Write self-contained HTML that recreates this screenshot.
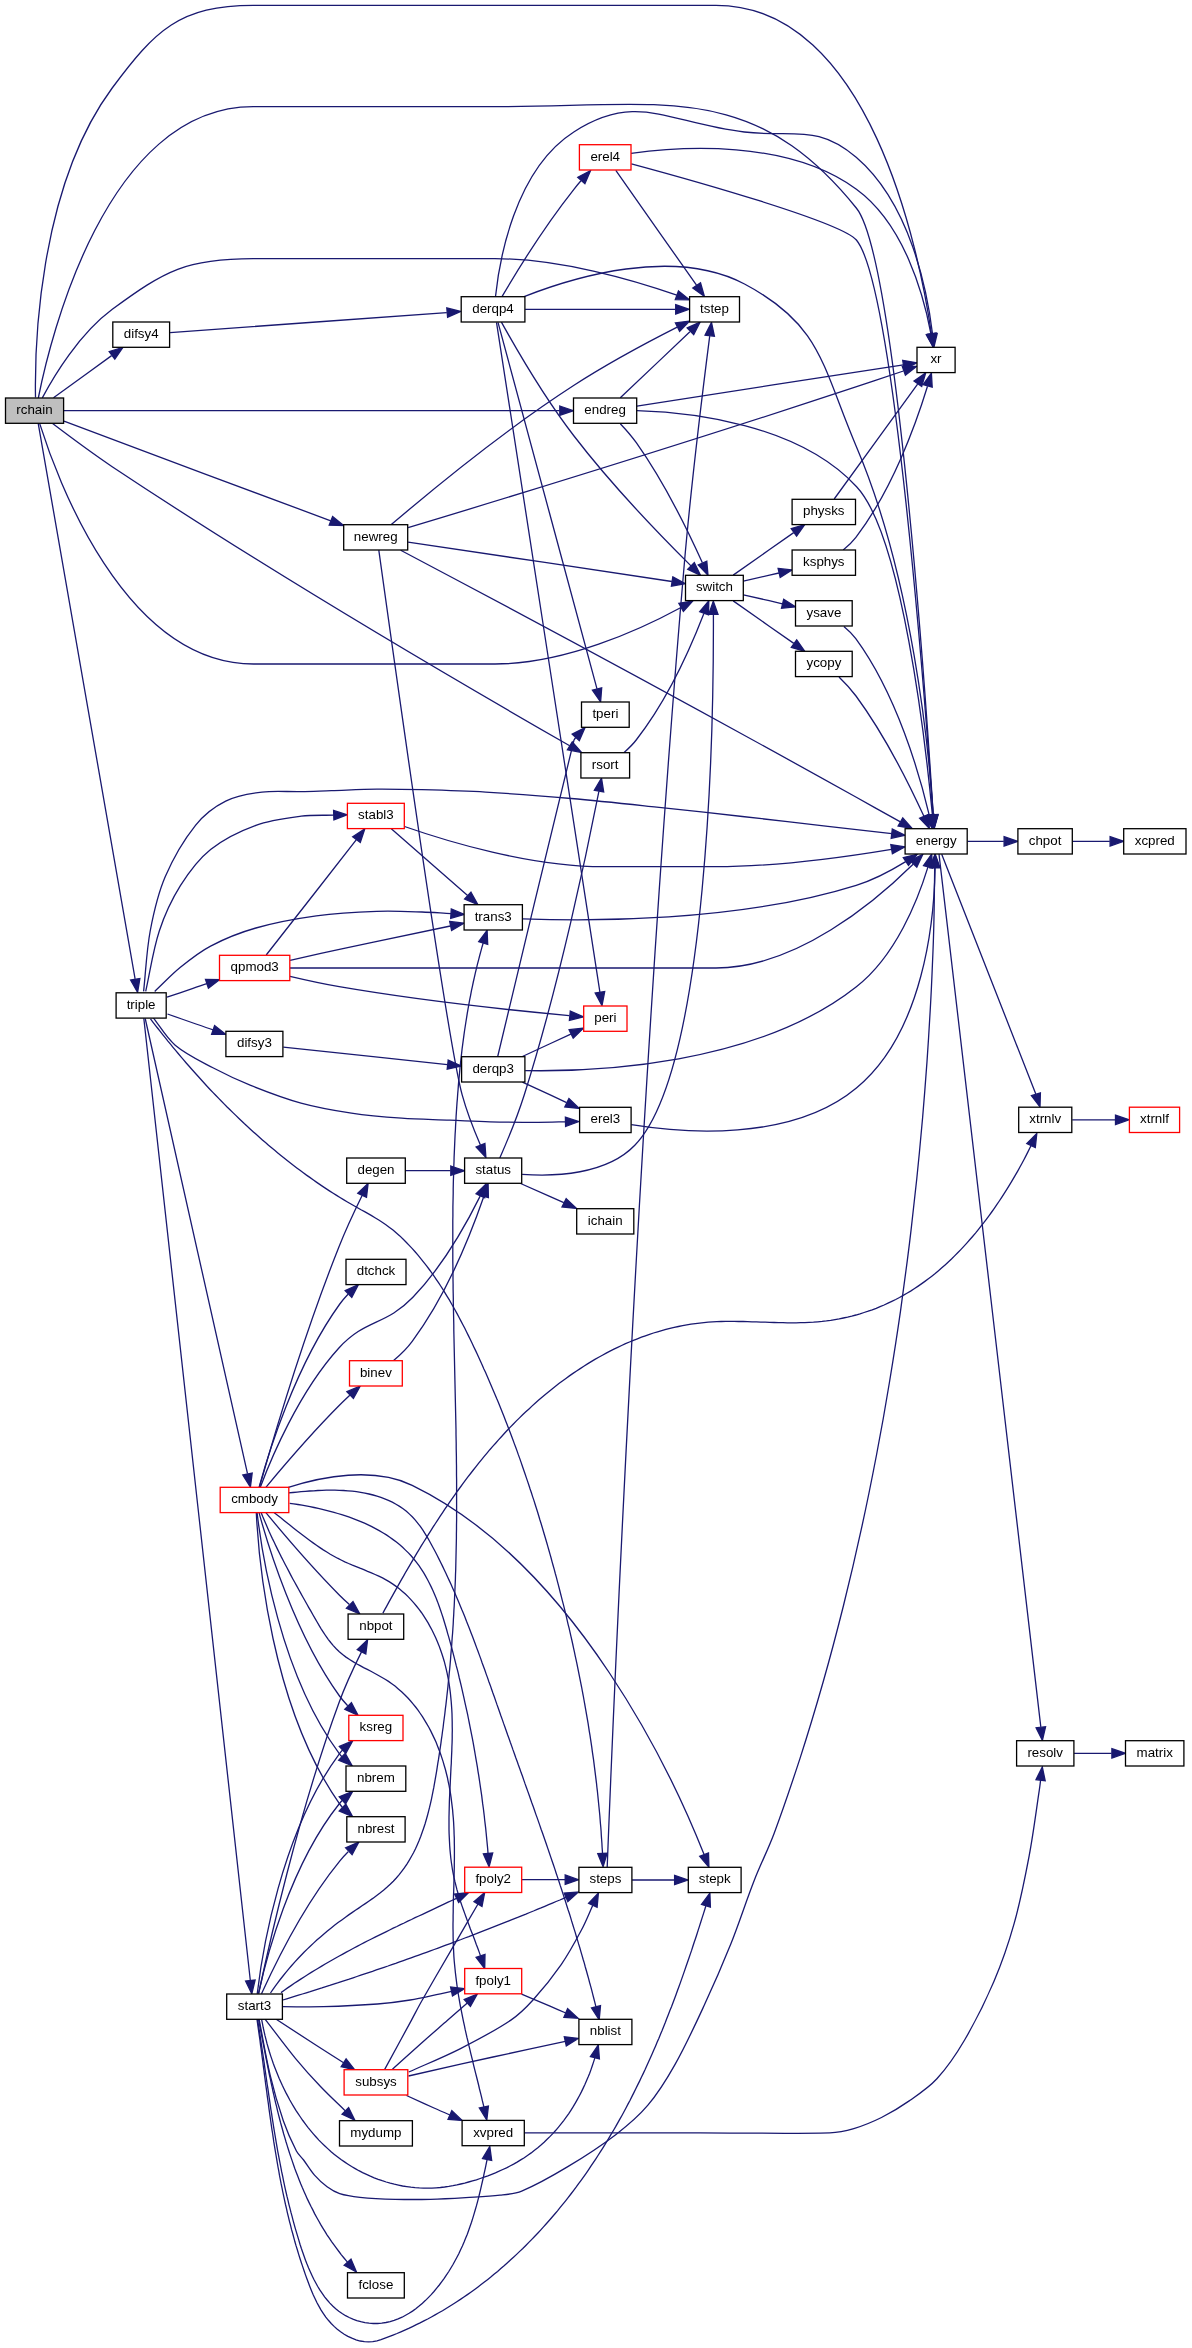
<!DOCTYPE html>
<html><head><meta charset="utf-8"><title>rchain call graph</title>
<style>
html,body{margin:0;padding:0;background:#ffffff;}
body{width:1192px;height:2348px;overflow:hidden;}
svg{display:block;will-change:transform;}
.e path{fill:none;stroke:#191970;stroke-width:1.3;}
.e polygon{fill:#191970;stroke:#191970;stroke-width:1.3;stroke-linejoin:miter;}
.n rect{stroke-width:1.3;}
.n text{font-family:"Liberation Sans",sans-serif;font-size:13.33px;text-anchor:middle;fill:#000000;}
</style></head><body>
<svg width="1192" height="2348" viewBox="0 0 1192 2348">
<rect x="0" y="0" width="1192" height="2348" fill="#ffffff"/>
<g class="e">
<path d="M38.3,398C49.7,340.5 105.4,106.7 253.2,106.7 253.2,106.7 253.2,106.7 494.5,106.7 663.3,106.7 752.2,79.2 856.3,208 895.7,256 926,700 933.2,814.5"/><polygon points="937.9,814.5 934,828.1 928.5,815.1"/>
<path d="M53.5,397.8C69.4,386.2 93,369.1 111.6,355.6"/><polygon points="109.2,351.5 122.9,347.4 114.8,359.1"/>
<path d="M42.3,397.9C53.6,376.6 79,333.9 112.3,309.3 165.6,270.2 186.4,258.7 253.4,258.7 253.4,258.7 253.4,258.7 494.9,258.7 560.7,258.7 634.1,280.2 676.8,295.2"/><polygon points="678.5,290.9 689.5,299.8 675.3,299.6"/>
<path d="M35.5,397.5C34.7,350.6 37.7,188.8 112.2,88 155,30.2 180,5.3 253.2,5.3 253.2,5.3 253.2,5.3 715.9,5.3 869.9,5.3 919.3,251.4 931.4,333.6"/><polygon points="936.1,333.1 933.3,347 926.7,334.4"/>
<path d="M39.7,423.6C55.8,475.2 123.5,664 253.6,664 253.6,664 253.6,664 495.1,664 564.8,664 639.6,630 681,607.5"/><polygon points="678.8,603.3 692.8,600.9 683.4,611.5"/>
<path d="M63.9,410.7C105,410.7 184.8,410.7 253.1,410.7 253.1,410.7 253.1,410.7 377,410.7 440.5,410.7 514,410.7 559.7,410.7"/><polygon points="559.8,406 573.5,410.7 559.8,415.3"/>
<path d="M64,421.2C122.6,443.3 259.5,494.4 330.8,520.8"/><polygon points="332.6,516.5 343.7,525.6 329.2,525.2"/>
<path d="M52.6,423.5C67.9,435.1 91.2,452.5 112.2,466.7 279.6,578.1 488.6,699.3 569.7,745.8"/><polygon points="572.3,741.8 581.6,752.6 567.4,749.8"/>
<path d="M38.2,423.4C51.2,498.1 116.8,873.8 135.1,978.8"/><polygon points="139.9,978.5 137.6,992.4 130.6,980.1"/>
<path d="M939,854.1C950.5,952.7 1024.6,1587.7 1040.8,1726.8"/><polygon points="1045.6,1726.7 1042.4,1740.4 1036.1,1727.7"/>
<path d="M967.6,841.3C978.9,841.3 991.8,841.3 1003.8,841.3"/><polygon points="1004.1,836.7 1017.7,841.3 1004.1,846"/>
<path d="M941.7,854.2C957.6,894.7 1014.4,1039.6 1035.9,1094.3"/><polygon points="1040.4,1092.9 1040,1107 1031.4,1095.7"/>
<path d="M1074.1,1753.3C1085.6,1753.3 1099,1753.3 1111.6,1753.3"/><polygon points="1111.9,1748.7 1125.5,1753.3 1111.9,1758"/>
<path d="M1072.7,841.3C1084,841.3 1097.2,841.3 1109.8,841.3"/><polygon points="1110.1,836.7 1123.7,841.3 1110.1,846"/>
<path d="M1072.2,1119.8C1085.3,1119.8 1101.2,1119.8 1115.5,1119.8"/><polygon points="1115.5,1115.2 1129.1,1119.8 1115.5,1124.5"/>
<path d="M170.1,332.6C231,328.2 374.1,317.8 446.8,312.6"/><polygon points="446.8,307.9 460.8,311.5 447.6,317.2"/>
<path d="M524.1,296.6C573.4,277.3 673.3,246.5 744.5,284 821.7,324.8 821.9,365.8 856.4,446.7 912.3,577.7 928.9,750.1 933.3,815"/><polygon points="938.1,814.9 934.2,828.5 928.6,815.5"/>
<path d="M502,296.6C515.2,274.1 544.5,226.4 573.9,189.3 576.1,186.5 578.5,183.6 581,180.8"/><polygon points="577.8,177.3 590.5,170.6 584.9,183.6"/>
<path d="M525.1,309.3C564.4,309.3 632.7,309.3 675.2,309.3"/><polygon points="675.7,304.7 689.1,309.3 675.7,314"/>
<path d="M495.5,296.5C499.1,262.5 514.1,170.1 573.8,132 637.7,90.8 669.5,123.6 744.3,132 794.7,137.7 817.2,123.9 856.2,157.3 910.2,203.5 927.2,290.3 932.5,333.8"/><polygon points="937.2,333.5 933.9,347.2 927.8,334.4"/>
<path d="M496.5,322.3C509.4,406.3 581.9,875.2 599.9,992.2"/><polygon points="604.7,991.6 602,1005.5 595.2,993"/>
<path d="M498,322.4C513.5,379.8 575.9,610.8 597,688.8"/><polygon points="601.7,687.8 600.6,701.9 592.4,690.2"/>
<path d="M501.4,322.1C514.4,345.5 543.7,396.6 574,436 611.9,485.3 662.2,537.3 691,565.9"/><polygon points="694.3,562.6 700.5,575.3 687.7,569.2"/>
<path d="M631.4,163.8C691.6,180 841.4,222 856.4,240 894.1,285.1 925.4,704.4 933,814.8"/><polygon points="937.8,814.6 933.9,828.3 928.3,815.3"/>
<path d="M615.8,170.3C633.7,195.8 673.6,252.7 696.5,285.2"/><polygon points="700.5,282.8 704.4,296.4 692.8,288.1"/>
<path d="M631.1,153.3C679.3,146.7 787.7,138.7 856.4,189.3 904.4,224.3 923.7,295.1 930.9,333.6"/><polygon points="935.6,333.2 933.2,347.1 926.3,334.7"/>
<path d="M733.2,600.9C749.8,612.5 774.5,629.9 793.8,643.4"/><polygon points="796.7,639.8 804.8,651.3 791.3,647.4"/>
<path d="M743.4,594.8C755.4,597.5 769.4,600.8 782.4,603.8"/><polygon points="783.7,599.3 795.5,606.9 781.5,608.3"/>
<path d="M743.4,581.2C754.3,578.7 766.9,575.8 778.9,573"/><polygon points="778.1,568.4 792,569.9 780.2,577.5"/>
<path d="M733.2,575.1C749.8,563.5 774.4,546.1 793.7,532.6"/><polygon points="791.2,528.6 804.7,524.7 796.6,536.2"/>
<path d="M839,677C844.7,682.5 851,689.3 856,696 884.9,735.2 910,786.1 923.8,816.1"/><polygon points="928.3,814.5 929.4,828.6 919.6,818.3"/>
<path d="M843.9,626.4C848.3,630 852.6,634.2 855.8,638.7 896.9,694.8 919.7,774.6 929.3,815.3"/><polygon points="934,814.3 932.2,828.4 924.7,816.3"/>
<path d="M843.2,550C847.7,546.3 852.3,542 855.9,537.3 892.5,489.7 916.3,422.9 927.5,386.3"/><polygon points="923.1,384.6 931.4,373.1 932.2,387.2"/>
<path d="M834.2,499C852.7,473.6 894,416.7 917.6,384.1"/><polygon points="914,381.1 925.7,372.9 921.7,386.5"/>
<path d="M636.9,410.6C689.5,412.2 798.1,423.5 856.6,486.7 901.9,535.1 925.4,741.1 932.4,814.9"/><polygon points="937.2,814.8 933.7,828.5 927.7,815.7"/>
<path d="M620.3,397.8C637.8,381.2 668.5,352.1 689.9,331.7"/><polygon points="687.2,327.9 700.1,322.1 693.7,334.7"/>
<path d="M636.9,406.1C698.8,396.5 839.4,374.6 903.4,364.9"/><polygon points="902.7,360.3 916.8,362.8 904.2,369.5"/>
<path d="M620.3,423.7C625.6,429.3 631.6,436 636.3,442.7 664.2,482.1 688.9,532.9 702.4,562.8"/><polygon points="706.8,561.2 708,575.3 698.2,565"/>
<path d="M400.7,550.2C471.8,587.8 684.3,701.3 856.3,797.3 870.7,805.3 886.7,814.2 900.4,821.9"/><polygon points="902.8,817.9 912.2,828.5 898.1,826"/>
<path d="M391.3,524.6C423.2,497.4 501.8,431.9 574,385.3 608.1,363.3 648.6,341.7 677.2,327.2"/><polygon points="675.4,322.9 689.5,321.1 679.6,331.3"/>
<path d="M408.1,527.7C485.9,504.2 690.1,441.7 856.6,386.7 872.1,381.6 889.1,375.9 903.4,371"/><polygon points="902.3,366.5 916.6,366.5 905.4,375.3"/>
<path d="M408.1,542.1C469.4,551.2 603.7,571.2 671.9,581.5"/><polygon points="672.8,576.9 685.3,583.6 671.4,586.2"/>
<path d="M378.8,550.2C389.7,628.4 447.3,1039.9 462.1,1094.7 466.8,1111.9 474.1,1130.5 480.4,1145"/><polygon points="484.9,1143.4 485.9,1157.5 476.1,1147.1"/>
<path d="M522.1,1174.3C554.6,1176.6 606.3,1174.9 634.8,1145.3 709.3,1068.1 713.7,715.8 713.4,615"/><polygon points="708.7,614.4 713.3,601.1 718,614.4"/>
<path d="M520.6,1183.5C533.7,1189.3 549.4,1196.3 563.8,1202.7"/><polygon points="566.2,1198.6 576.5,1208.5 562,1207"/>
<path d="M499.8,1157.9C506.4,1143 517.1,1117.4 524.3,1094.7 559.6,983.6 587.9,847.5 598.9,791.4"/><polygon points="594.3,790.3 601.5,778.1 603.7,792"/>
<path d="M624.1,752.4C628.4,748.7 632.8,744.5 636.2,740 667.6,700 691.6,645.3 703.9,613.6"/><polygon points="699.7,611.6 708.8,600.8 708.5,614.9"/>
<path d="M143.6,991.4C145.8,971.3 146.5,950.8 150.2,931C153.7,912.6 157.9,893.8 165.3,876.6C173,858.5 183.3,840.6 195.5,825.3C203.4,815.4 214.4,806.7 225.7,801.1C236.6,795.7 249.7,793.6 262,792.1C274.9,790.5 288.1,791.9 301.2,791.6C311.3,791.4 321.3,790.9 331.4,790.6C346.5,790.1 361.6,789.3 376.7,789.1C391.8,789 406.9,789.3 422,789.7C443.2,790.3 464.4,790.9 485.6,792.1C514.2,793.8 542.7,796 571.2,798.5C599.7,801 628.2,804.1 656.7,807.1C685.2,810.1 713.8,813.3 742.3,816.5C770.8,819.7 799.4,823 827.9,826.3C849.2,828.7 870.5,831.2 891.8,833.7"/><polygon points="891.2,838.3 905,835.2 892.3,829"/>
<path d="M145.2,1018.5C159.9,1084 227.3,1383.7 247.5,1473.7"/><polygon points="252.2,1473 250.4,1487.1 242.8,1475"/>
<path d="M150.5,1018.9 L152.9,1022.1 L155.4,1025.3 L157.9,1028.5 L160.4,1031.6 L162.9,1034.8 L165.4,1037.9 L167.9,1041.1 L170.5,1044.2 L173,1047.3 L175.6,1050.4 L178.2,1053.5 L180.8,1056.6 L183.4,1059.7 L186,1062.7 L188.7,1065.8 L191.3,1068.8 L194,1071.8 L196.7,1074.8 L199.4,1077.8 L202.1,1080.8 L204.8,1083.8 L207.5,1086.7 L210.3,1089.7 L213.1,1092.6 L215.9,1095.5 L218.7,1098.4 L221.5,1101.3 L224.3,1104.1 L227.1,1107 L230,1109.8 L232.9,1112.6 L235.8,1115.4 L238.7,1118.2 L241.6,1121 L244.5,1123.8 L247.5,1126.5 L250.4,1129.2 L253.4,1131.9 L256.4,1134.6 L259.4,1137.3 L262.4,1139.9 L265.5,1142.6 L268.5,1145.2 L271.6,1147.8 L274.7,1150.3 L277.8,1152.9 L280.9,1155.4 L284.1,1158 L287.2,1160.5 L290.4,1163 L293.6,1165.4 L296.8,1167.9 L300,1170.3 L303.3,1172.7 L306.5,1175.1 L309.8,1177.4 L313.1,1179.8 L316.4,1182.1 L319.7,1184.4 L323,1186.6 L326.4,1188.9 L329.8,1191.1 L333.2,1193.2 L336.6,1195.4 L340,1197.5 L343.5,1199.6 L347,1201.7 L350.5,1203.7 L354,1205.7 L357.5,1207.7 L361,1209.7 L364.6,1211.6 L368.1,1213.6 L371.6,1215.6 L375,1217.7 L378.4,1219.8 L382.2,1222.2 L385.9,1224.7 L389.5,1227.4 L393,1230.1 L396.4,1233 L399.8,1235.9 L403,1239 L406.2,1242.2 L409.2,1245.4 L412.3,1248.6 L415.3,1252 L418.2,1255.4 L421,1258.8 L423.8,1262.3 L426.6,1265.9 L429.3,1269.5 L431.6,1272.7 L434,1276 L436.2,1279.3 L438.5,1282.6 L440.7,1286 L442.9,1289.4 L445,1292.8 L447.1,1296.3 L449.2,1299.7 L451.2,1303.3 L453.2,1306.8 L455.2,1310.3 L457.2,1313.9 L459.1,1317.5 L461,1321.1 L462.9,1324.7 L464.8,1328.3 L466.6,1332 L468.4,1335.6 L470.2,1339.3 L472,1343 L473.7,1346.7 L475.5,1350.4 L477.2,1354.1 L478.9,1357.8 L480.6,1361.5 L482.3,1365.2 L483.9,1368.9 L485.6,1372.6 L487.2,1376.3 L488.8,1380 L490.4,1383.7 L492,1387.4 L493.6,1391.2 L495.2,1394.9 L496.7,1398.6 L498.3,1402.3 L499.8,1406.1 L501.3,1409.8 L502.8,1413.6 L504.3,1417.3 L505.7,1421 L507.2,1424.8 L508.6,1428.5 L510.1,1432.3 L511.5,1436 L512.9,1439.8 L514.3,1443.6 L515.7,1447.3 L517.1,1451.1 L518.4,1454.9 L519.8,1458.6 L521.1,1462.4 L522.4,1466.2 L523.7,1470 L525,1473.8 L526.3,1477.6 L527.6,1481.4 L528.9,1485.2 L530.1,1489 L531.4,1492.8 L532.6,1496.6 L533.9,1500.4 L535.1,1504.2 L536.3,1508 L537.5,1511.8 L538.7,1515.7 L539.8,1519.5 L541,1523.3 L542.2,1527.2 L543.3,1531 L544.4,1534.8 L545.6,1538.7 L546.7,1542.5 L547.8,1546.4 L548.9,1550.2 L550,1554.1 L551.1,1558 L552.1,1561.8 L553.2,1565.7 L554.3,1569.6 L555.3,1573.5 L556.4,1577.4 L557.4,1581.3 L558.4,1585.2 L559.4,1589 L560.4,1593 L561.4,1596.9 L562.4,1600.8 L563.4,1604.7 L564.4,1608.6 L565.3,1612.5 L566.3,1616.4 L567.2,1620.4 L568.1,1624.3 L569.1,1628.2 L570,1632.2 L570.9,1636.1 L571.8,1640 L572.7,1644 L573.5,1647.9 L574.4,1651.9 L575.2,1655.8 L576.1,1659.8 L576.9,1663.7 L577.7,1667.7 L578.5,1671.7 L579.3,1675.6 L580.1,1679.6 L580.9,1683.6 L581.7,1687.5 L582.4,1691.5 L583.2,1695.5 L583.9,1699.5 L584.6,1703.4 L585.3,1707.4 L586,1711.4 L586.7,1715.4 L587.4,1719.4 L588.1,1723.4 L588.7,1727.3 L589.3,1731.3 L590,1735.3 L590.6,1739.3 L591.2,1743.3 L591.8,1747.3 L592.3,1751.3 L592.9,1755.3 L593.5,1759.3 L594,1763.3 L594.5,1767.3 L595,1771.3 L595.5,1775.3 L596,1779.3 L596.5,1783.3 L596.9,1787.3 L597.4,1791.3 L597.8,1795.3 L598.2,1799.3 L598.6,1803.3 L599,1807.3 L599.4,1811.3 L599.8,1815.3 L600.1,1819.3 L600.4,1823.3 L600.8,1827.3 L601.1,1831.3 L601.3,1835.3 L601.6,1839.3 L601.9,1843.3 L602.1,1847.3 L602.4,1851.3 L602.5,1853.5"/><polygon points="597.8,1853.7 603.1,1866.8 607.1,1853.3"/>
<path d="M167,997.2C175.7,994.3 184.3,991.3 193,988.4C197.6,986.8 202.3,985.3 207,983.7"/><polygon points="208.4,988.2 219.6,979.5 205.5,979.3"/>
<path d="M145.7,991.4C150.2,971.3 152.9,950.5 159.3,931C164.5,915.3 171.6,899.7 180.4,885.7C188.7,872.5 198.6,859.1 210.6,849.5C223.7,839 240,831.1 255.9,825.3C270.2,820 286,818.2 301.2,816.2C311.9,814.8 322.9,815.5 333.8,815.1"/><polygon points="333.9,819.8 347.1,814.7 333.6,810.5"/>
<path d="M154.7,991.4C163.3,983.4 171.3,974.7 180.4,967.3C189.9,959.6 199.8,951.7 210.6,946.1C224.9,938.6 240.3,932.4 255.9,928C275.6,922.4 296,918.7 316.3,915.9C336.3,913.2 356.5,912.1 376.7,911.4C391.8,910.8 406.9,911.5 422,912C431.7,912.3 441.3,913.1 451,913.6"/><polygon points="450.7,918.3 464.3,914.4 451.3,909"/>
<path d="M143.8,1018.3C155.3,1122.2 234.2,1834.6 250.3,1980.3"/><polygon points="255.1,1980 251.8,1993.8 245.6,1981"/>
<path d="M152.6,1016.8C160.1,1026.3 166.1,1037.5 175.2,1045.2C186.2,1054.5 200,1060.9 212.9,1067.8C225.2,1074.3 237.8,1080.2 250.7,1085.4C267.2,1092 283.9,1098.4 301,1103.1C317.5,1107.6 334.5,1110.6 351.4,1113.1C368,1115.6 384.9,1117 401.7,1118.2C417.8,1119.4 433.9,1119.5 450,1120.2C463.3,1120.7 476.7,1121.5 490,1121.8C506.2,1122.2 522.3,1122.3 538.5,1122.3C547.5,1122.3 556.5,1122 565.5,1121.8"/><polygon points="565.6,1126.5 578.8,1121.6 565.4,1117.2"/>
<path d="M167.5,1014C177,1017.3 186.5,1020.7 196,1024C201.7,1026 207.4,1028 213.1,1029.9"/><polygon points="211.6,1034.3 225.7,1034.3 214.6,1025.5"/>
<path d="M260.4,1487C270.9,1459 298.6,1392.4 338.9,1348 365.6,1318.7 385.5,1325.9 412.9,1297.3 442.5,1266.5 466.8,1223.1 480.3,1195.9"/><polygon points="476.1,1193.7 486.3,1183.7 484.7,1197.7"/>
<path d="M259.1,1487.1C268.1,1454.4 295.1,1365.9 339.8,1304 342.2,1300.7 345.1,1297.4 348,1294.3"/><polygon points="345.2,1290.6 358.4,1284.7 351.8,1297.3"/>
<path d="M274,1512.5 L277.2,1515 L280.5,1517.6 L283.7,1520.2 L286.9,1522.7 L290.1,1525.3 L293.4,1527.9 L296.6,1530.5 L299.9,1533 L303.2,1535.5 L306.5,1538 L309.8,1540.5 L313.1,1542.9 L316.5,1545.3 L319.9,1547.6 L323.3,1549.9 L326.8,1552 L330.3,1554.2 L333.9,1556.2 L337.5,1558.2 L341.1,1560 L344.8,1561.8 L348.6,1563.5 L352.4,1565.1 L356.2,1566.6 L360,1568.2 L363.8,1569.7 L367.6,1571.3 L371.4,1572.8 L375.1,1574.5 L378.8,1576.2 L382.5,1577.9 L386,1579.9 L389.5,1581.9 L392.9,1584.1 L396.1,1586.4 L399.3,1588.8 L402.4,1591.4 L405.4,1594.1 L408.3,1596.9 L411.1,1599.9 L413.8,1602.9 L416.4,1606 L418.9,1609.2 L421.4,1612.5 L423.7,1615.9 L425.9,1619.4 L428.1,1622.9 L430.1,1626.6 L432.1,1630.2 L433.9,1634 L435.7,1637.7 L437.3,1641.6 L438.9,1645.4 L440.3,1649.3 L441.7,1653.2 L443,1657.2 L444.2,1661.2 L445.2,1665.1 L446.2,1669.1 L447.1,1673.1 L447.9,1677.2 L448.7,1681.2 L449.3,1685.2 L449.9,1689.3 L450.4,1693.3 L450.8,1697.4 L451.2,1701.5 L451.5,1705.6 L451.8,1709.7 L452,1713.8 L452.1,1717.9 L452.2,1722 L452.2,1726.1 L452.3,1730.2 L452.2,1734.3 L452.2,1738.5 L452.1,1742.6 L451.9,1746.8 L451.8,1750.9 L451.6,1755 L451.4,1759.2 L451.3,1763.3 L451,1767.5 L450.8,1771.6 L450.6,1775.8 L450.4,1779.9 L450.2,1784.1 L450,1788.2 L449.8,1792.4 L449.6,1796.5 L449.4,1800.6 L449.3,1804.8 L449.2,1808.9 L449.1,1813 L449,1817.2 L449,1821.3 L449,1825.4 L449,1829.5 L449.1,1833.6 L449.3,1837.7 L449.5,1841.7 L449.7,1845.8 L450,1849.9 L450.4,1853.9 L450.8,1858 L451.3,1862 L451.9,1866 L452.5,1870 L453.3,1874 L454.1,1878 L455,1882 L456,1885.9 L457,1889.9 L458.2,1893.8 L459.4,1897.8 L460.6,1901.7 L461.9,1905.6 L463.3,1909.5 L464.7,1913.4 L466.1,1917.3 L467.5,1921.1 L469,1925 L470.4,1928.9 L471.9,1932.8 L473.4,1936.6 L474.9,1940.5 L476.3,1944.4 L477.8,1948.2 L479.2,1952.1 L480.5,1955.9"/><polygon points="476.1,1957.4 484.7,1968.6 485,1954.5"/>
<path d="M288.6,1492.9 L292.9,1492.5 L297.1,1492.1 L301.1,1491.7 L305.3,1491.3 L309.6,1491 L313.7,1490.8 L317.8,1490.5 L322,1490.4 L326.3,1490.2 L330.6,1490.2 L334.9,1490.2 L339.3,1490.3 L343.6,1490.5 L347.9,1490.8 L352.2,1491.2 L356.5,1491.7 L360.7,1492.4 L364.9,1493.1 L369,1494 L373.1,1495 L377,1496.1 L380.9,1497.4 L384.7,1498.8 L388.4,1500.3 L392.3,1502.2 L396,1504.2 L399.6,1506.4 L403.1,1508.7 L406.4,1511.3 L409.5,1514.1 L412.5,1517 L415.3,1520.1 L417.9,1523.3 L420.5,1526.7 L422.9,1530.2 L425.2,1533.8 L427.4,1537.4 L429.6,1541.2 L431.5,1544.7 L433.4,1548.2 L435.3,1551.8 L437.1,1555.3 L438.9,1558.9 L440.7,1562.5 L442.5,1566.1 L444.2,1569.7 L445.9,1573.3 L447.6,1577 L449.3,1580.6 L451,1584.3 L452.6,1587.9 L454.2,1591.6 L455.8,1595.3 L457.4,1599 L459,1602.7 L460.5,1606.4 L462,1610.1 L463.6,1613.8 L465.1,1617.5 L466.5,1621.3 L468,1625 L469.5,1628.8 L470.9,1632.5 L472.4,1636.3 L473.8,1640 L475.2,1643.8 L476.6,1647.6 L478,1651.3 L479.4,1655.1 L480.8,1658.9 L482.1,1662.7 L483.5,1666.5 L484.9,1670.3 L486.2,1674.1 L487.6,1677.9 L488.9,1681.7 L490.3,1685.4 L491.6,1689.2 L492.9,1693 L494.3,1696.8 L495.6,1700.6 L496.9,1704.4 L498.3,1708.2 L499.6,1712 L500.9,1715.8 L502.3,1719.6 L503.6,1723.4 L505,1727.2 L506.3,1731 L507.6,1734.8 L509,1738.5 L510.3,1742.3 L511.7,1746.1 L513,1749.9 L514.4,1753.7 L515.7,1757.5 L517.1,1761.2 L518.4,1765 L519.8,1768.8 L521.1,1772.6 L522.5,1776.3 L523.8,1780.1 L525.1,1783.9 L526.5,1787.7 L527.8,1791.4 L529.2,1795.2 L530.5,1799 L531.8,1802.8 L533.2,1806.5 L534.5,1810.3 L535.8,1814.1 L537.2,1817.9 L538.5,1821.6 L539.8,1825.4 L541.1,1829.2 L542.5,1833 L543.8,1836.8 L545.1,1840.5 L546.4,1844.3 L547.8,1848.4 L549.2,1852.5 L550.6,1856.6 L552,1860.7 L553.4,1864.8 L554.8,1868.9 L556.1,1873 L557.5,1877.1 L558.9,1881.2 L560.2,1885.4 L561.6,1889.5 L562.9,1893.6 L564.3,1897.7 L565.6,1901.8 L566.8,1905.7 L568,1909.5 L569.3,1913.3 L570.5,1917.1 L571.6,1920.9 L572.8,1924.7 L574,1928.6 L575.2,1932.4 L576.3,1936.2 L577.5,1940.1 L578.6,1943.9 L579.8,1947.7 L580.9,1951.6 L582,1955.4 L583.1,1959.3 L584.3,1963.1 L585.3,1967 L586.4,1970.8 L587.5,1974.7 L588.6,1978.6 L589.6,1982.5 L590.7,1986.3 L591.7,1990.2 L592.7,1994.1 L593.7,1998 L594.7,2001.9 L595.7,2005.8 L596,2006.9"/><polygon points="591.5,2008 599.2,2019.8 600.5,2005.7"/>
<path d="M265.9,1487.3C281.3,1468.8 311.4,1433.4 339.4,1405.3 342.7,1402 346.3,1398.6 349.8,1395.3"/><polygon points="346.9,1391.7 360.2,1386 353.4,1398.5"/>
<path d="M261.1,1512.5 L262.6,1516.3 L264.2,1520 L265.8,1523.7 L267.4,1527.5 L269,1531.2 L270.7,1534.9 L272.4,1538.6 L274.2,1542.2 L275.9,1545.9 L277.7,1549.6 L279.5,1553.2 L281.3,1556.9 L283.2,1560.5 L285.1,1564.2 L287,1567.8 L288.9,1571.4 L290.8,1575.1 L292.7,1578.7 L294.7,1582.3 L296.7,1585.9 L298.7,1589.5 L300.7,1593.1 L302.7,1596.7 L304.7,1600.3 L306.8,1604 L308.8,1607.6 L310.9,1611.2 L312.9,1614.8 L315,1618.4 L317.1,1622 L319.2,1625.6 L321.3,1629.1 L323.6,1632.6 L325.8,1636 L328.2,1639.3 L330.7,1642.5 L333.3,1645.6 L336.2,1648.8 L339.3,1651.7 L342.6,1654.5 L346,1657.1 L349.6,1659.5 L353,1661.6 L356.5,1663.7 L360.1,1665.6 L363.6,1667.6 L367.3,1669.4 L370.9,1671.3 L374.5,1673.2 L378.1,1675.2 L381.6,1677.2 L385.1,1679.3 L388.5,1681.4 L391.8,1683.7 L395,1686.1 L398.3,1688.9 L401.6,1691.7 L404.7,1694.7 L407.7,1697.8 L410.4,1700.8 L413,1703.8 L415.6,1707 L418,1710.2 L420.3,1713.5 L422.6,1716.8 L424.7,1720.3 L426.8,1723.8 L428.8,1727.3 L430.7,1730.9 L432.5,1734.6 L434.3,1738.4 L436,1742.1 L437.5,1745.9 L439,1749.8 L440.5,1753.7 L441.8,1757.6 L443.1,1761.6 L444.2,1765.5 L445.4,1769.5 L446.4,1773.5 L447.4,1777.5 L448.2,1781.6 L449.1,1785.6 L449.8,1789.6 L450.5,1793.7 L451.1,1797.7 L451.6,1801.8 L452.1,1805.8 L452.6,1809.9 L452.9,1813.9 L453.3,1818 L453.6,1822.1 L453.8,1826.1 L454,1830.2 L454.1,1834.3 L454.3,1838.3 L454.3,1842.4 L454.4,1846.5 L454.4,1850.6 L454.4,1854.7 L454.4,1858.7 L454.3,1862.8 L454.3,1866.9 L454.2,1871 L454.1,1875.1 L454,1879.2 L453.9,1883.2 L453.8,1887.3 L453.7,1891.4 L453.5,1895.5 L453.4,1899.6 L453.3,1903.7 L453.2,1907.8 L453.2,1911.8 L453.1,1915.9 L453.1,1920 L453,1924.1 L453,1928.1 L453.1,1932.2 L453.1,1936.3 L453.2,1940.4 L453.3,1944.4 L453.5,1948.5 L453.7,1952.6 L453.9,1956.6 L454.2,1960.7 L454.6,1964.7 L455,1968.8 L455.4,1972.8 L455.9,1976.9 L456.4,1980.9 L456.9,1984.9 L457.5,1989 L458.1,1993 L458.8,1997 L459.5,2001.1 L460.2,2005.1 L461,2009.1 L461.8,2013.1 L462.6,2017.1 L463.4,2021.1 L464.3,2025.2 L465.1,2029.2 L466,2033.2 L466.9,2037.2 L467.9,2041.2 L468.8,2045.2 L469.8,2049.2 L470.7,2053.1 L471.7,2057.1 L472.7,2061.1 L473.6,2065.1 L474.6,2069.1 L475.6,2073.1 L476.6,2077 L477.6,2081 L478.6,2085 L479.5,2089 L480.5,2092.9 L481.5,2096.9 L482.4,2100.9 L483.4,2104.8 L483.9,2107"/><polygon points="479.3,2108 486.8,2120 488.4,2106"/>
<path d="M259.4,1487.2C270.1,1449.6 303,1337.1 339,1246.7 345.9,1229.3 354.9,1210.2 362.1,1195.5"/><polygon points="357.8,1193.3 368.1,1183.4 366.5,1197.4"/>
<path d="M256.3,1512.8C258.5,1557.1 270.9,1706.6 339.7,1804 340.6,1805.2 341.5,1806.4 342.5,1807.5"/><polygon points="345.8,1804.1 352.6,1816.6 339.2,1810.9"/>
<path d="M289.7,1503.3 L293.7,1503.9 L297.9,1504.5 L302,1505.2 L306,1505.9 L310,1506.7 L314.1,1507.5 L318.2,1508.4 L322.3,1509.3 L326.2,1510.3 L330.1,1511.3 L334,1512.3 L337.8,1513.5 L341.7,1514.7 L345.6,1515.9 L349.4,1517.2 L353.2,1518.6 L357,1520.1 L360.8,1521.6 L364.5,1523.2 L368.2,1524.9 L371.8,1526.6 L375.5,1528.6 L379.2,1530.6 L382.8,1532.7 L386.4,1534.9 L389.8,1537.2 L393.1,1539.6 L396.4,1542.1 L399.5,1544.6 L402.6,1547.3 L405.5,1550.1 L408.4,1552.9 L411.1,1555.8 L413.8,1559 L416.5,1562.3 L419,1565.7 L421.3,1569.2 L423.6,1572.7 L425.6,1576.1 L427.6,1579.7 L429.4,1583.2 L431.2,1586.9 L432.9,1590.5 L434.5,1594.3 L436.1,1598.1 L437.6,1601.9 L439,1605.8 L440.4,1609.7 L441.7,1613.6 L443,1617.5 L444.2,1621.5 L445.4,1625.5 L446.6,1629.5 L447.7,1633.6 L448.9,1637.6 L450,1641.6 L451.1,1645.7 L452.2,1649.7 L453.2,1653.7 L454.3,1657.8 L455.3,1661.8 L456.3,1665.9 L457.4,1669.9 L458.4,1673.9 L459.3,1678 L460.3,1682 L461.3,1686.1 L462.2,1690.1 L463.1,1694.2 L464,1698.2 L464.9,1702.3 L465.8,1706.3 L466.7,1710.4 L467.6,1714.4 L468.4,1718.5 L469.2,1722.5 L470,1726.6 L470.8,1730.6 L471.6,1734.7 L472.4,1738.7 L473.2,1742.8 L473.9,1746.9 L474.6,1750.9 L475.3,1755 L476,1759.1 L476.7,1763.1 L477.4,1767.2 L478,1771.3 L478.7,1775.3 L479.3,1779.4 L479.9,1783.5 L480.5,1787.6 L481.1,1791.6 L481.7,1795.7 L482.2,1799.8 L482.7,1803.9 L483.3,1808 L483.8,1812.1 L484.3,1816.2 L484.7,1820.3 L485.2,1824.3 L485.7,1828.4 L486.1,1832.5 L486.5,1836.6 L486.9,1840.8 L487.3,1844.9 L487.7,1849 L488,1853.1 L488.1,1853.5"/><polygon points="483.4,1853.9 489.1,1866.8 492.7,1853.1"/>
<path d="M288.4,1487.3C321.6,1476.8 373.2,1466.3 412.2,1485.3 577.5,1566 674.8,1780.7 704.1,1854.6"/><polygon points="708.5,1852.9 708.9,1867.1 699.7,1856.3"/>
<path d="M259.1,1512.9C268,1545.6 294.9,1634.1 339.5,1696 341.9,1699.3 344.7,1702.6 347.7,1705.7"/><polygon points="351.5,1702.7 358.1,1715.3 344.8,1709.4"/>
<path d="M257.1,1512.8C261.7,1552.3 280.2,1673.9 339.1,1753.3 340,1754.5 340.9,1755.7 341.9,1756.8"/><polygon points="345.2,1753.4 352.1,1765.8 338.7,1760.2"/>
<path d="M265.9,1512.7C281.2,1531.2 311.2,1566.6 339,1594.7 342.3,1598 345.9,1601.4 349.4,1604.6"/><polygon points="353,1601.5 359.8,1614 346.4,1608.3"/>
<path d="M521.6,1994.1C531.1,1998.1 540.5,2002.1 550,2006.2C555.3,2008.5 560.5,2010.7 565.8,2013"/><polygon points="563.9,2017.3 578,2018.3 567.6,2008.7"/>
<path d="M393.6,1360.5C400,1355.1 407,1348.4 412.2,1341.3 446.9,1294.7 471.8,1231.2 483.9,1196.3"/><polygon points="479.3,1194.8 488.1,1183.6 488.4,1197.7"/>
<path d="M524.4,2132.8C582.9,2132.8 641.5,2132.8 700,2132.8C743.3,2132.8 786.6,2134 829.8,2132.8C837.9,2132.6 846.1,2130.9 853.8,2128.6C863.3,2125.8 872.6,2121.9 881.5,2117.5C891.1,2112.7 900.4,2107.1 909.2,2100.9C918.9,2094.2 929,2087.5 936.9,2078.8C947.5,2067.2 956.6,2053.7 964.6,2040C975.6,2021.2 985.4,2001.5 993.9,1981.5C1001.9,1962.7 1008.6,1943.2 1014.1,1923.6C1020.4,1901.3 1024.9,1878.4 1029.2,1855.6C1033.3,1833.9 1036,1812 1039.3,1790.2C1039.8,1786.9 1040.2,1783.5 1040.6,1780.2"/><polygon points="1045.2,1780.8 1042.3,1767 1036,1779.6"/>
<path d="M405.7,1170.7C419.2,1170.7 435.5,1170.7 450.5,1170.7"/><polygon points="450.8,1166 464.5,1170.7 450.8,1175.3"/>
<path d="M521.8,1879.7C531.2,1879.7 540.6,1879.7 550,1879.7C555.1,1879.7 560.1,1879.7 565.2,1879.7"/><polygon points="565.2,1884.4 578.5,1879.7 565.2,1875"/>
<path d="M607.2,1867C611.1,1766.4 637.9,1101.3 684.4,562.7 691.6,479.9 703.8,382.2 709.7,336.1"/><polygon points="705.1,335.1 711.5,322.5 714.4,336.3"/>
<path d="M632.1,1880C644.9,1880 660.4,1880 674.6,1880"/><polygon points="674.6,1875.3 688,1880 674.6,1884.7"/>
<path d="M382.9,1613.1 L384.9,1609.4 L387,1605.6 L389,1601.9 L391.1,1598.1 L393.2,1594.4 L395.3,1590.6 L397.4,1586.9 L399.5,1583.1 L401.6,1579.4 L403.8,1575.6 L405.9,1571.8 L408.1,1568.1 L410.3,1564.4 L412.5,1560.6 L414.7,1556.9 L416.9,1553.1 L419.2,1549.4 L421.4,1545.7 L423.7,1542 L426,1538.3 L428.3,1534.6 L430.7,1530.9 L433,1527.2 L435.4,1523.5 L437.8,1519.8 L440.2,1516.2 L442.6,1512.6 L445,1508.9 L447.5,1505.3 L450,1501.7 L452.5,1498.1 L455,1494.6 L457.5,1491 L460.1,1487.5 L462.7,1483.9 L465.3,1480.4 L467.9,1476.9 L470.6,1473.5 L473.3,1470 L476,1466.6 L478.7,1463.2 L481.4,1459.8 L484.2,1456.4 L487,1453.1 L489.8,1449.7 L492.7,1446.4 L495.6,1443.2 L498.5,1439.9 L501.4,1436.7 L504.3,1433.5 L507.3,1430.3 L510.3,1427.1 L513.4,1424 L516.4,1420.9 L519.5,1417.9 L522.6,1414.8 L525.8,1411.8 L529,1408.9 L532.2,1405.9 L535.4,1403 L538.7,1400.1 L542,1397.3 L545.3,1394.5 L548.7,1391.7 L552.1,1389 L555.5,1386.3 L558.9,1383.6 L562.4,1381 L565.9,1378.4 L569.4,1375.9 L573,1373.4 L576.6,1371 L580.2,1368.6 L583.8,1366.2 L587.5,1363.9 L591.2,1361.6 L594.9,1359.4 L598.7,1357.3 L602.4,1355.2 L606.2,1353.1 L610,1351.1 L613.9,1349.2 L617.7,1347.3 L621.6,1345.5 L625.5,1343.7 L629.5,1342 L633.4,1340.3 L637.4,1338.8 L641.4,1337.2 L645.4,1335.8 L649.5,1334.4 L653.5,1333 L657.6,1331.8 L661.7,1330.6 L665.9,1329.4 L670,1328.4 L674.2,1327.4 L678.4,1326.5 L682.6,1325.7 L686.8,1324.9 L691,1324.2 L695.3,1323.6 L699.6,1323.1 L703.9,1322.6 L708.2,1322.2 L712.5,1321.9 L716.8,1321.7 L721.2,1321.5 L725.6,1321.4 L729.9,1321.4 L734.3,1321.4 L738.7,1321.5 L743.1,1321.5 L747.5,1321.6 L752,1321.8 L756.4,1321.9 L760.8,1322.1 L765.2,1322.2 L769.6,1322.4 L774.1,1322.5 L778.5,1322.6 L782.9,1322.7 L787.3,1322.8 L791.7,1322.8 L796.1,1322.8 L800.5,1322.7 L804.8,1322.6 L809.2,1322.4 L813.5,1322.2 L817.8,1321.8 L822.1,1321.4 L826.4,1320.9 L830.7,1320.3 L835,1319.6 L839.2,1318.9 L843.4,1318 L847.6,1317.1 L851.8,1316.1 L855.9,1315 L860,1313.8 L864.1,1312.5 L868.2,1311.2 L872.2,1309.8 L876.2,1308.3 L880.1,1306.7 L884.1,1305 L888,1303.2 L891.8,1301.4 L895.7,1299.5 L899.5,1297.5 L903.2,1295.4 L906.9,1293.3 L910.6,1291.1 L914.2,1288.8 L917.8,1286.4 L921.4,1283.9 L924.9,1281.4 L928.4,1278.8 L931.8,1276.2 L935.2,1273.5 L938.5,1270.7 L941.8,1267.8 L945.1,1264.9 L948.3,1262 L951.5,1259 L954.6,1255.9 L957.7,1252.8 L960.8,1249.6 L963.8,1246.4 L966.8,1243.1 L969.7,1239.8 L972.6,1236.5 L975.5,1233.1 L978.3,1229.6 L981,1226.2 L983.8,1222.7 L986.5,1219.1 L989.1,1215.6 L991.7,1212 L994.3,1208.3 L996.8,1204.7 L999.3,1201 L1001.7,1197.3 L1004.1,1193.6 L1006.5,1189.9 L1008.8,1186.2 L1011.1,1182.4 L1013.3,1178.6 L1015.5,1174.9 L1017.7,1171.1 L1019.8,1167.3 L1021.9,1163.5 L1023.9,1159.7 L1025.9,1155.9 L1027.8,1152.1 L1029.7,1148.3 L1031.1,1145.6"/><polygon points="1035.3,1147.6 1036.8,1133.6 1026.8,1143.6"/>
<path d="M289.9,968C335.7,968 420.2,968 492,968 492,968 492,968 716,968 797.1,968 876.1,900.7 913.1,864.2"/><polygon points="910,860.7 922.8,854.4 916.8,867.2"/>
<path d="M290,976.4C304.9,979.9 322.9,983.9 339.2,986.7 421.1,1000.8 518.3,1010.9 569.2,1015.6"/><polygon points="570.3,1011 583.5,1016.9 569.4,1020.3"/>
<path d="M266.2,955C286.2,929.5 331,872.2 356.4,839.7"/><polygon points="352.7,836.7 364.8,828.9 360.3,842.4"/>
<path d="M290.1,960.3C305.2,956.8 323.1,952.8 339.4,949.3 377,941.2 419.6,932.4 450.4,926"/><polygon points="449.7,921.4 464,923.2 451.6,930.5"/>
<path d="M404.5,826.5C446.9,841.3 530.1,866.7 603.4,866.7 603.4,866.7 603.4,866.7 715.6,866.7 776.5,866.7 846.9,856.7 891.5,849.3"/><polygon points="890.8,844.6 904.9,846.9 892.4,853.8"/>
<path d="M391.3,828.8C410.4,845.6 444.3,875.1 467.6,895.5"/><polygon points="471,892.2 477.9,904.6 464.6,899.1"/>
<path d="M522.6,918.8C586,921.2 737.6,922.4 856.2,885.3 873.6,880 891.4,870.4 905.7,861.6"/><polygon points="903.3,857.6 917.2,854.2 908.5,865.4"/>
<path d="M259.1,2019.3C262.8,2038 265.8,2056.9 270.2,2075.4C273.8,2090.7 278.2,2105.9 283.3,2120.7C286.9,2131.1 291.4,2141.3 296.4,2151C298.2,2154.4 301.3,2156.9 303.6,2160C307.3,2165 310.4,2170.5 314.5,2175.1C318.3,2179.4 322.5,2183.4 327.1,2186.8C330.9,2189.6 335.2,2192.2 339.7,2193.6C346.2,2195.7 353.2,2196.6 360,2197.3C371.7,2198.5 383.5,2199 395.2,2199.3C407,2199.6 418.7,2199.6 430.5,2199.3C442.2,2199 454,2198.3 465.7,2197.6C477.1,2196.9 488.6,2196.5 500,2195.2C507.3,2194.4 515,2193.9 521.7,2191.1C537.4,2184.5 552.6,2175.8 567.4,2166.9C584,2157 600.4,2146.4 615.7,2134.7C627.2,2125.9 638.6,2116.2 647.9,2105.2C658.3,2093 666.9,2078.9 674.8,2064.9C685.6,2045.8 694.8,2025.7 704,2005.8C713.5,1985.4 722.5,1964.7 730.9,1943.8C739.3,1922.8 746.1,1901.1 754.4,1880C760.5,1864.4 768.1,1849.4 774,1833.7C783.3,1808.8 791.8,1783.5 800.1,1758.1C808.3,1732.8 815.9,1707.4 823.2,1681.8C830.4,1656.5 837.1,1631 843.5,1605.5C849.8,1580.3 855.7,1555.1 861.2,1529.7C866.7,1504.9 871.7,1480 876.5,1455C881.2,1430.7 885.5,1406.4 889.5,1382C893.4,1358.4 897.1,1334.8 900.5,1311.1C903.7,1288.5 906.7,1265.8 909.5,1243.1C912.1,1221.6 914.5,1200.1 916.8,1178.5C918.9,1158.3 920.8,1138 922.6,1117.8C924.2,1099.1 925.6,1080.3 927,1061.6C928.2,1044.6 929.2,1027.5 930.2,1010.5C931.1,995.3 931.8,980.2 932.4,965C933,951.9 933.5,938.8 933.8,925.8C934.3,906.4 934.4,887.1 934.7,867.8"/><polygon points="939.4,867.9 934.9,854.5 930,867.8"/>
<path d="M282.8,2006.7C296.4,2006.7 310.1,2007.1 323.7,2006.7C341.6,2006.2 359.5,2005.4 377.4,2004C388.4,2003.1 399.3,2001.8 410.2,2000C420.3,1998.4 430.3,1995.9 440.4,1993.8C444.1,1993 447.8,1992.2 451.6,1991.4"/><polygon points="452.5,1996 464.6,1988.7 450.6,1986.9"/>
<path d="M261.6,2019.3 L262.4,2023.4 L263.2,2027.5 L264.1,2031.6 L265,2035.7 L266.1,2039.8 L267.1,2043.9 L268.3,2048 L269.4,2051.8 L270.6,2055.6 L271.9,2059.4 L273.2,2063.3 L274.6,2067 L276.1,2070.8 L277.6,2074.5 L279.1,2078.3 L280.8,2082 L282.4,2085.6 L284.2,2089.3 L286,2092.9 L287.9,2096.4 L289.8,2100 L291.8,2103.5 L293.8,2106.9 L295.9,2110.4 L298.1,2113.7 L300.4,2117 L302.8,2120.5 L305.3,2123.9 L307.9,2127.3 L310.6,2130.6 L313.3,2133.8 L316.1,2137 L318.9,2140.1 L321.9,2143.1 L324.9,2146 L328,2148.9 L331.1,2151.7 L334.4,2154.4 L337.7,2157 L341,2159.5 L344.5,2161.9 L348,2164.2 L351.6,2166.5 L355.2,2168.6 L358.9,2170.7 L362.6,2172.6 L366.5,2174.4 L370.3,2176.2 L374.2,2177.8 L378.2,2179.3 L382.2,2180.7 L386.2,2182 L390.2,2183.2 L394.3,2184.2 L398.4,2185.1 L402.6,2186 L406.7,2186.6 L410.9,2187.2 L415.1,2187.6 L419.3,2187.9 L423.5,2188.1 L427.7,2188.2 L431.9,2188.1 L436.2,2187.8 L440.4,2187.5 L444.6,2187 L448.8,2186.4 L453,2185.7 L456.9,2184.9 L460.8,2184 L464.7,2183.1 L468.6,2182 L472.5,2180.9 L476.4,2179.8 L480.2,2178.5 L484.1,2177.2 L487.9,2175.8 L491.7,2174.3 L495.4,2172.8 L499.1,2171.2 L502.8,2169.5 L506.5,2167.8 L510,2166 L513.6,2164.1 L517.1,2162.1 L520.7,2159.9 L524.3,2157.7 L527.8,2155.3 L531.2,2152.9 L534.5,2150.3 L537.8,2147.7 L541,2145 L544.1,2142.2 L547.1,2139.3 L550.1,2136.4 L553,2133.4 L555.8,2130.3 L558.5,2127.1 L561.1,2123.9 L563.7,2120.6 L566.2,2117.2 L568.6,2113.8 L570.9,2110.3 L573.2,2106.7 L575.3,2103.1 L577.4,2099.4 L579.4,2095.7 L581.4,2091.9 L583.2,2088.1 L584.9,2084.5 L586.5,2080.8 L588.1,2077.1 L589.6,2073.4 L591,2069.6 L592.3,2065.8 L593.6,2061.9 L594.8,2058.1 L594.9,2057.7"/><polygon points="599.4,2058.9 598.3,2044.8 590.4,2056.5"/>
<path d="M257.5,2019.3 L258.2,2023.4 L258.8,2027.5 L259.5,2031.6 L260.1,2035.7 L260.7,2039.8 L261.3,2043.8 L261.9,2047.8 L262.5,2051.9 L263.1,2055.9 L263.7,2059.9 L264.3,2063.9 L264.8,2067.8 L265.4,2071.8 L266,2076 L266.6,2080.3 L267.2,2084.5 L267.9,2088.7 L268.5,2092.9 L269.1,2097.1 L269.7,2101.2 L270.3,2105.4 L270.9,2109.6 L271.6,2113.7 L272.2,2117.9 L272.9,2122.1 L273.5,2126.2 L274.2,2130.4 L274.9,2134.5 L275.6,2138.7 L276.3,2142.8 L277,2146.9 L277.7,2151.1 L278.5,2155.2 L279.3,2159.4 L280.1,2163.5 L280.9,2167.7 L281.7,2171.9 L282.6,2176 L283.4,2180.2 L284.3,2184.4 L285.2,2188.6 L286.1,2192.5 L287,2196.4 L288,2200.3 L288.9,2204.3 L289.9,2208.2 L290.9,2212.2 L292,2216.1 L293,2220.1 L294.1,2224.1 L295.2,2228.1 L296.4,2232.1 L297.6,2236.1 L298.8,2240.1 L300,2244.2 L301.3,2248.2 L302.7,2252.2 L304.1,2256.2 L305.5,2260.2 L307,2264.1 L308.6,2268 L310.3,2271.8 L312,2275.5 L313.8,2279.2 L315.7,2282.8 L317.6,2286.3 L319.8,2289.9 L322.2,2293.4 L324.6,2296.8 L327.2,2300 L329.9,2303.1 L332.7,2306 L335.7,2308.7 L338.8,2311.2 L342.1,2313.5 L345.6,2315.7 L349.2,2317.5 L352.9,2319.2 L356.8,2320.6 L360.8,2321.7 L364.9,2322.6 L369.1,2323.2 L373.3,2323.5 L377.5,2323.5 L381.7,2323.1 L385.9,2322.5 L390.1,2321.6 L394.1,2320.4 L398.1,2318.9 L402.1,2317.2 L405.6,2315.3 L409.1,2313.3 L412.5,2311.1 L415.8,2308.7 L419.1,2306.1 L422.2,2303.4 L425.3,2300.6 L428.3,2297.6 L431.2,2294.6 L434,2291.5 L436.7,2288.2 L439.3,2285 L441.8,2281.6 L444.2,2278.3 L446.5,2274.9 L448.8,2271.5 L450.9,2268 L453,2264.5 L454.9,2261 L456.8,2257.5 L458.8,2253.7 L460.6,2249.8 L462.4,2246 L464.1,2242.1 L465.7,2238.1 L467.3,2234.2 L468.7,2230.2 L470.1,2226.2 L471.5,2222.2 L472.8,2218.1 L474,2214.1 L475.2,2210 L476.4,2205.9 L477.5,2201.8 L478.6,2197.6 L479.6,2193.5 L480.6,2189.3 L481.5,2185.4 L482.4,2181.5 L483.3,2177.6 L484.1,2173.7 L485,2169.7 L485.8,2165.8 L486.6,2161.8 L487.1,2159.6"/><polygon points="491.7,2160.5 489.8,2146.5 482.5,2158.6"/>
<path d="M261.5,1993.8C273.5,1967.4 303.3,1905.8 339.5,1861.3 342.1,1858.1 345.1,1854.9 348.2,1851.8"/><polygon points="345.6,1847.8 358.8,1842.1 352.1,1854.6"/>
<path d="M281,1992.6 L284.3,1990.2 L287.6,1987.9 L291,1985.6 L294.3,1983.3 L297.7,1981.1 L301.1,1978.9 L304.5,1976.7 L307.9,1974.5 L311.3,1972.4 L314.8,1970.3 L318.2,1968.2 L321.7,1966.1 L325.2,1964 L328.7,1962 L332.2,1960 L335.7,1958 L339.3,1956 L342.8,1954.1 L346.3,1952.1 L349.9,1950.2 L353.5,1948.3 L357.1,1946.4 L360.6,1944.5 L364.2,1942.7 L367.8,1940.8 L371.4,1939 L375.1,1937.2 L378.7,1935.4 L382.3,1933.6 L385.9,1931.8 L389.6,1930 L393.2,1928.2 L396.9,1926.5 L400.5,1924.7 L404.2,1923 L407.8,1921.2 L411.5,1919.5 L415.1,1917.7 L418.8,1916 L422.5,1914.3 L426.1,1912.6 L429.8,1910.8 L433.5,1909.1 L437.1,1907.4 L440.8,1905.7 L444.5,1903.9 L448.1,1902.2 L451.8,1900.5 L455.4,1898.8 L456.6,1898.2"/><polygon points="458.6,1902.5 468.6,1892.5 454.6,1894"/>
<path d="M282.8,2000 L286.7,1998.8 L290.6,1997.6 L294.5,1996.4 L298.5,1995.2 L302.4,1994 L306.3,1992.8 L310.2,1991.6 L314.1,1990.3 L318,1989.1 L321.9,1987.9 L325.8,1986.6 L329.7,1985.4 L333.6,1984.1 L337.5,1982.9 L341.4,1981.6 L345.3,1980.3 L349.2,1979.1 L353.1,1977.8 L356.9,1976.5 L360.8,1975.2 L364.7,1973.9 L368.6,1972.6 L372.5,1971.3 L376.3,1969.9 L380.2,1968.6 L384.1,1967.3 L388,1966 L391.8,1964.6 L395.7,1963.3 L399.6,1961.9 L403.4,1960.6 L407.3,1959.2 L411.1,1957.8 L415,1956.4 L418.8,1955.1 L422.7,1953.7 L426.5,1952.3 L430.4,1950.9 L434.2,1949.5 L438.1,1948.1 L441.9,1946.7 L445.8,1945.2 L449.6,1943.8 L453.4,1942.4 L457.3,1940.9 L461.1,1939.5 L464.9,1938 L468.8,1936.6 L472.6,1935.1 L476.4,1933.7 L480.2,1932.2 L484,1930.7 L487.9,1929.2 L491.7,1927.7 L495.5,1926.2 L499.3,1924.7 L503.1,1923.2 L506.9,1921.7 L510.7,1920.2 L514.5,1918.7 L518.3,1917.2 L522.1,1915.6 L525.9,1914.1 L529.7,1912.5 L533.5,1911 L537.2,1909.4 L541,1907.9 L544.8,1906.3 L548.6,1904.7 L552.4,1903.1 L556.1,1901.5 L559.9,1900 L563.7,1898.4 L566,1897.4"/><polygon points="567.9,1901.6 578.3,1892.1 564.2,1893.1"/>
<path d="M257,2019.3 L257.6,2023.6 L258.2,2027.8 L258.8,2032.1 L259.4,2036.3 L260,2040.5 L260.5,2044.8 L261.1,2049 L261.7,2053.3 L262.2,2057.5 L262.8,2061.7 L263.3,2066 L263.9,2070.2 L264.4,2074.4 L265,2078.7 L265.5,2082.9 L266.1,2087.1 L266.7,2091.4 L267.2,2095.6 L267.8,2099.8 L268.4,2104 L268.9,2108.2 L269.5,2112.4 L270.1,2116.7 L270.7,2120.9 L271.3,2125.1 L271.9,2129.3 L272.6,2133.5 L273.2,2137.7 L273.8,2141.9 L274.5,2146.1 L275.2,2150.3 L275.9,2154.5 L276.6,2158.6 L277.3,2162.8 L278,2167 L278.8,2171.2 L279.5,2175.4 L280.3,2179.5 L281.1,2183.7 L282,2187.9 L282.8,2192 L283.7,2196.2 L284.6,2200.3 L285.5,2204.5 L286.5,2208.7 L287.4,2212.8 L288.4,2216.9 L289.4,2221.1 L290.5,2225.2 L291.5,2229.4 L292.7,2233.5 L293.8,2237.6 L294.9,2241.8 L296.1,2245.9 L297.4,2250 L298.6,2254.1 L299.9,2258.2 L301.2,2262.3 L302.6,2266.4 L304,2270.5 L305.4,2274.6 L306.9,2278.7 L308.4,2282.8 L310,2286.9 L311.6,2290.9 L313.3,2294.9 L315.1,2298.8 L317,2302.7 L319,2306.4 L321.1,2310.1 L323.4,2313.6 L325.8,2317.1 L328.4,2320.3 L331.2,2323.5 L334.1,2326.4 L337.3,2329.2 L340.6,2331.8 L344.2,2334.2 L347.9,2336.4 L351.9,2338.2 L356,2339.8 L360.2,2341 L364.4,2341.7 L368.6,2341.9 L372.8,2341.7 L377,2340.8 L381,2339.6 L385,2338.2 L389,2336.7 L393,2335.1 L397,2333.5 L400.9,2331.8 L404.8,2330.1 L408.7,2328.4 L412.5,2326.6 L416.3,2324.7 L420.1,2322.9 L423.9,2320.9 L427.7,2319 L431.4,2317 L435.1,2314.9 L438.8,2312.8 L442.5,2310.7 L446.1,2308.5 L449.7,2306.3 L453.3,2304 L456.8,2301.7 L460.4,2299.4 L463.9,2297 L467.4,2294.6 L470.8,2292.2 L474.3,2289.7 L477.7,2287.2 L481.1,2284.6 L484.4,2282 L487.8,2279.4 L491.1,2276.8 L494.3,2274.1 L497.6,2271.4 L500.8,2268.6 L504.1,2265.8 L507.2,2263 L510.4,2260.1 L513.5,2257.3 L516.6,2254.4 L519.7,2251.4 L522.8,2248.5 L525.8,2245.5 L528.8,2242.4 L531.8,2239.4 L534.8,2236.3 L537.7,2233.2 L540.6,2230.1 L543.5,2226.9 L546.3,2223.7 L549.2,2220.5 L552,2217.3 L554.8,2214 L557.5,2210.8 L560.2,2207.4 L562.9,2204.1 L565.6,2200.8 L568.3,2197.4 L570.9,2194 L573.5,2190.6 L576.1,2187.2 L578.6,2183.7 L581.1,2180.3 L583.6,2176.8 L586.1,2173.3 L588.5,2169.8 L590.9,2166.2 L593.3,2162.7 L595.7,2159.1 L598,2155.5 L600.3,2151.9 L602.6,2148.3 L604.9,2144.7 L607.1,2141 L609.3,2137.4 L611.5,2133.7 L613.7,2130 L615.8,2126.4 L617.9,2122.6 L620,2118.9 L622.1,2115.2 L624.1,2111.5 L626.1,2107.7 L628.1,2103.9 L630.1,2100.2 L632,2096.4 L633.9,2092.6 L635.8,2088.8 L637.7,2084.9 L639.6,2081.1 L641.4,2077.3 L643.3,2073.4 L645.1,2069.6 L646.8,2065.7 L648.6,2061.8 L650.3,2057.9 L652.1,2054 L653.8,2050.1 L655.5,2046.2 L657.1,2042.3 L658.8,2038.4 L660.4,2034.4 L662.1,2030.5 L663.7,2026.5 L665.3,2022.6 L666.8,2018.6 L668.4,2014.6 L669.9,2010.6 L671.5,2006.7 L673,2002.7 L674.5,1998.7 L676,1994.7 L677.4,1990.7 L678.9,1986.7 L680.4,1982.6 L681.8,1978.6 L683.2,1974.6 L684.6,1970.6 L686,1966.5 L687.4,1962.5 L688.8,1958.5 L690.2,1954.4 L691.6,1950.4 L692.9,1946.3 L694.2,1942.3 L695.6,1938.2 L696.9,1934.2 L698.2,1930.1 L699.5,1926.1 L700.8,1922 L702.1,1917.9 L703.4,1913.9 L704.7,1909.8 L705.9,1905.8"/><polygon points="710.4,1907.2 709.9,1893.1 701.5,1904.4"/>
<path d="M257.2,1993.8C261.9,1954.4 280.6,1832.7 339.7,1753.3 340.6,1752.1 341.6,1751 342.6,1749.9"/><polygon points="339.4,1746.4 352.7,1740.9 345.8,1753.3"/>
<path d="M258.5,1993.5C266,1959.3 289.8,1865.7 339.1,1804 340,1802.8 341,1801.7 342.1,1800.5"/><polygon points="339.2,1796.8 352.7,1791.4 345.6,1803.8"/>
<path d="M258.6,1993.7C267.6,1951.2 298.4,1812.7 339,1702.7 345.3,1685.3 354.2,1666.5 361.5,1651.9"/><polygon points="357.2,1649.7 367.6,1639.8 365.8,1653.9"/>
<path d="M270.5,1993 L272.8,1989.7 L275.1,1986.4 L277.5,1983.2 L280.2,1979.5 L283,1976 L285.9,1972.4 L288.8,1968.9 L291.7,1965.5 L294.7,1962.1 L297.8,1958.8 L300.9,1955.5 L304,1952.3 L307.2,1949.1 L310.5,1946 L313.8,1942.9 L317.1,1939.8 L320.5,1936.9 L323.9,1933.9 L327.4,1931 L330.9,1928.2 L334.5,1925.3 L338.1,1922.6 L341.8,1919.9 L345.5,1917.2 L348.7,1914.9 L352,1912.6 L355.4,1910.3 L358.7,1908.1 L362,1905.8 L365.3,1903.6 L369.1,1901 L372.8,1898.4 L376.4,1895.7 L380,1893 L383.5,1890.2 L386.9,1887.3 L390.2,1884.3 L393.3,1881.2 L396.3,1878 L399.2,1874.7 L401.9,1871.2 L404.5,1867.7 L406.9,1864.1 L409.2,1860.3 L411.4,1856.5 L413.5,1852.7 L415.5,1848.7 L417.3,1844.7 L419.1,1840.6 L420.7,1836.5 L422.2,1832.3 L423.7,1828 L425.1,1823.7 L426.4,1819.3 L427.6,1815 L428.6,1811.1 L429.6,1807.2 L430.5,1803.3 L431.4,1799.3 L432.2,1795.4 L433,1791.4 L433.8,1787.4 L434.5,1783.4 L435.2,1779.4 L435.9,1775.4 L436.6,1771.4 L437.2,1767.4 L437.8,1763.4 L438.5,1759.4 L439.1,1755.4 L439.7,1751.4 L440.3,1747.4 L440.9,1743.4 L441.4,1739.4 L442,1735.5 L442.5,1731.5 L443.1,1727.5 L443.6,1723 L444.2,1718.5 L444.8,1714 L445.3,1709.4 L445.9,1704.9 L446.4,1700.4 L446.9,1695.9 L447.4,1691.4 L447.9,1686.9 L448.3,1682.4 L448.8,1677.9 L449.2,1673.4 L449.7,1668.9 L450.1,1664.4 L450.5,1659.9 L450.8,1655.4 L451.2,1650.9 L451.6,1646.4 L451.9,1641.9 L452.2,1637.5 L452.6,1633 L452.9,1628.5 L453.2,1624 L453.4,1619.5 L453.7,1615 L453.9,1610.5 L454.2,1606 L454.4,1601.5 L454.6,1597 L454.8,1592.5 L455,1588 L455.2,1583.5 L455.4,1579 L455.5,1574.5 L455.7,1570 L455.8,1565.5 L455.9,1561 L456,1556.5 L456.1,1552 L456.2,1547.5 L456.3,1543 L456.4,1538.4 L456.4,1533.9 L456.5,1529.4 L456.5,1524.9 L456.6,1520.4 L456.6,1515.8 L456.6,1511.3 L456.6,1506.8 L456.6,1502.3 L456.6,1497.7 L456.6,1493.2 L456.6,1488.7 L456.6,1484.1 L456.6,1479.6 L456.5,1475.1 L456.5,1470.5 L456.5,1466 L456.4,1461.5 L456.4,1456.9 L456.3,1452.4 L456.2,1447.9 L456.2,1443.3 L456.1,1438.8 L456,1434.2 L456,1429.7 L455.9,1425.2 L455.8,1420.6 L455.7,1416.1 L455.6,1411.5 L455.5,1407 L455.4,1402.5 L455.3,1397.9 L455.2,1393.4 L455.1,1388.8 L455,1384.3 L454.9,1379.7 L454.8,1375.2 L454.7,1370.6 L454.6,1366.1 L454.5,1361.5 L454.4,1357 L454.3,1352.4 L454.2,1347.9 L454.1,1343.4 L454,1338.8 L453.9,1334.3 L453.8,1329.7 L453.8,1325.2 L453.7,1320.6 L453.6,1316.1 L453.5,1311.5 L453.4,1307 L453.3,1302.4 L453.3,1297.9 L453.2,1293.3 L453.1,1288.8 L453.1,1284.2 L453,1279.7 L453,1275.1 L452.9,1270.6 L452.9,1266 L452.8,1261.5 L452.8,1257 L452.8,1252.4 L452.8,1247.9 L452.8,1243.3 L452.8,1238.8 L452.8,1234.2 L452.8,1229.7 L452.8,1225.2 L452.8,1220.6 L452.9,1216.1 L452.9,1211.5 L452.9,1207 L453,1202.5 L453.1,1197.9 L453.2,1193.4 L453.2,1188.9 L453.3,1184.3 L453.4,1179.8 L453.6,1175.3 L453.7,1170.7 L453.8,1166.2 L454,1161.7 L454.1,1157.1 L454.3,1152.6 L454.5,1148.1 L454.7,1143.6 L454.9,1139 L455.1,1134.5 L455.4,1130 L455.6,1125.5 L455.9,1121 L456.1,1116.4 L456.4,1111.9 L456.7,1107.4 L457,1102.9 L457.4,1098.4 L457.7,1093.9 L458.1,1089.4 L458.4,1084.9 L458.8,1080.3 L459.3,1075.8 L459.7,1071.3 L460.1,1066.8 L460.6,1062.3 L461.1,1057.9 L461.6,1053.4 L462.1,1048.9 L462.7,1044.4 L463.3,1039.9 L463.9,1035.4 L464.5,1031 L465.2,1026.5 L465.9,1022 L466.6,1017.6 L467.3,1013.1 L468.1,1008.6 L468.9,1004.2 L469.7,999.7 L470.6,995.3 L471.4,990.8 L472.4,986.4 L473.3,982 L474.3,977.6 L475.3,973.1 L476.4,968.7 L477.4,964.3 L478.6,959.9 L479.7,955.5 L480.9,951.1 L482.1,946.7 L483.2,943"/><polygon points="487.7,944.4 487.1,930.3 478.7,941.7"/>
<path d="M258.5,2019.3 L259.3,2023.2 L260,2027.2 L260.8,2031.2 L261.6,2035.2 L262.3,2039.2 L263.1,2043.2 L263.9,2047.2 L264.7,2051.2 L265.5,2055.3 L266.3,2059.3 L267.1,2063.4 L267.9,2067.4 L268.7,2071.3 L269.5,2075.3 L270.4,2079.2 L271.2,2083.1 L272.1,2087.1 L272.9,2091 L273.8,2094.9 L274.7,2098.9 L275.6,2102.8 L276.6,2106.7 L277.5,2110.6 L278.5,2114.6 L279.5,2118.5 L280.5,2122.4 L281.6,2126.3 L282.7,2130.2 L283.7,2134 L284.9,2137.9 L286,2141.8 L287.2,2145.6 L288.4,2149.5 L289.6,2153.3 L290.9,2157.1 L292.2,2160.9 L293.5,2164.7 L294.8,2168.5 L296.2,2172.2 L297.7,2176.1 L299.2,2179.9 L300.7,2183.8 L302.3,2187.6 L304,2191.4 L305.6,2195.1 L307.3,2198.9 L309.1,2202.6 L310.9,2206.3 L312.8,2209.9 L314.6,2213.6 L316.6,2217.2 L318.6,2220.7 L320.6,2224.3 L322.7,2227.8 L324.9,2231.3 L327,2234.8 L329.3,2238.2 L331.6,2241.6 L334,2244.9 L336.4,2248.2 L338.9,2251.5 L341.4,2254.8 L344,2258 L346.6,2261.1 L347.5,2262.2"/><polygon points="344.1,2265.3 356.5,2272 351,2259"/>
<path d="M276.2,2019.3C289.1,2027.7 302,2036.1 315,2044.5C324.5,2050.6 334,2056.7 343.6,2062.7"/><polygon points="341.1,2066.7 354.8,2069.9 346.1,2058.8"/>
<path d="M265.2,2019.3C275.3,2032.3 285,2045.6 295.4,2058.3C303.4,2068 311.8,2077.4 320.5,2086.5C328.5,2094.9 337,2102.7 345.3,2110.9"/><polygon points="342,2114.2 354.8,2120.2 348.6,2107.5"/>
<path d="M392.3,2069.4C403.2,2059.6 414,2049.7 425,2040C432.5,2033.3 440.2,2026.8 447.8,2020.1C454.3,2014.4 460.8,2008.6 467.3,2002.9"/><polygon points="470.4,2006.4 477.3,1994.1 464.2,1999.4"/>
<path d="M408.5,2076C436.7,2069.7 464.8,2063.2 493,2057C517.1,2051.7 541.2,2046.6 565.3,2041.3"/><polygon points="566.3,2045.9 578.3,2038.5 564.3,2036.8"/>
<path d="M406.5,2095.5C415.7,2099.7 424.8,2103.9 434,2108C439.3,2110.4 444.6,2112.7 449.9,2115"/><polygon points="448,2119.3 462.1,2120.4 451.8,2110.7"/>
<path d="M384.7,2069.4C393.6,2053 402.6,2036.5 411.5,2020.1C415.1,2013.4 418.5,2006.6 422.3,2000C432.9,1981.4 443.8,1962.9 454.5,1944.4C462.3,1930.9 470.2,1917.5 478,1904"/><polygon points="482,1906.4 484.7,1892.5 474,1901.7"/>
<path d="M408.7,2072C425.8,2064.3 443.3,2057.3 460,2048.8C477.3,2040 494.8,2030.9 510.9,2020.1C519.1,2014.6 526.3,2007.4 533,2000C543.1,1988.9 552.6,1977 561.2,1964.6C568.7,1953.7 575.1,1942 581.3,1930.3C585.6,1922.2 589,1913.6 592.8,1905.2"/><polygon points="597.1,1907.2 598.4,1893.1 588.6,1903.3"/>
<path d="M631.3,1124.7C680.4,1132.6 790.8,1142.8 856.4,1088 924.1,1032.1 934.2,919.3 935.1,867.9"/><polygon points="930.4,867.4 935.2,854.1 939.9,867.4"/>
<path d="M283.3,1047.1C324.2,1051.4 399.4,1059.4 447.4,1064.6"/><polygon points="448.2,1060 461.3,1066.1 447.2,1069.2"/>
<path d="M525.2,1070.6C593.1,1071.8 756.1,1065.9 856.4,986.7 896,955.8 918,899.6 928,866.9"/><polygon points="923.5,865.6 931.7,854.1 932.6,868.2"/>
<path d="M522.4,1056.5C537.1,1049.7 555.3,1041.3 570.8,1034.2"/><polygon points="569.1,1029.7 583.5,1028.2 573.2,1038.2"/>
<path d="M497.7,1056.5C512.2,995.9 572.9,741.8 574,740 574.5,739.1 575.1,738.3 575.7,737.5"/><polygon points="572.2,734.2 585,727.6 579.3,740.6"/>
<path d="M522.4,1082.1C535.8,1088.3 552.1,1095.8 566.6,1102.6"/><polygon points="568.9,1098.5 579.2,1108.4 564.8,1106.9"/>
</g>
<g class="n">
<rect x="5.5" y="398" width="58.1" height="25.3" fill="#bfbfbf" stroke="#000000"/><text x="34.5" y="414.1">rchain</text>
<rect x="905.1" y="828.7" width="62.1" height="25.3" fill="#ffffff" stroke="#000000"/><text x="936.2" y="844.7">energy</text>
<rect x="112.8" y="322" width="56.8" height="25.3" fill="#ffffff" stroke="#000000"/><text x="141.2" y="338.1">difsy4</text>
<rect x="689.6" y="296.7" width="49.9" height="25.3" fill="#ffffff" stroke="#000000"/><text x="714.5" y="312.7">tstep</text>
<rect x="917" y="347.3" width="38.1" height="25.3" fill="#ffffff" stroke="#000000"/><text x="936" y="363.4">xr</text>
<rect x="685.5" y="575.3" width="57.8" height="25.3" fill="#ffffff" stroke="#000000"/><text x="714.4" y="591.4">switch</text>
<rect x="573.5" y="398" width="63.2" height="25.3" fill="#ffffff" stroke="#000000"/><text x="605.1" y="414.1">endreg</text>
<rect x="343.7" y="524.7" width="64" height="25.3" fill="#ffffff" stroke="#000000"/><text x="375.7" y="540.7">newreg</text>
<rect x="580.9" y="752.7" width="48.7" height="25.3" fill="#ffffff" stroke="#000000"/><text x="605.2" y="768.7">rsort</text>
<rect x="116.1" y="992.8" width="50.1" height="25.3" fill="#ffffff" stroke="#000000"/><text x="141.1" y="1008.9">triple</text>
<rect x="1016.6" y="1740.7" width="57.3" height="25.3" fill="#ffffff" stroke="#000000"/><text x="1045.2" y="1756.8">resolv</text>
<rect x="1017.9" y="828.7" width="54.4" height="25.3" fill="#ffffff" stroke="#000000"/><text x="1045.1" y="844.7">chpot</text>
<rect x="1018.7" y="1107.2" width="53.1" height="25.3" fill="#ffffff" stroke="#000000"/><text x="1045.2" y="1123.2">xtrnlv</text>
<rect x="1125.5" y="1740.7" width="58.4" height="25.3" fill="#ffffff" stroke="#000000"/><text x="1154.7" y="1756.8">matrix</text>
<rect x="1123.7" y="828.7" width="62.3" height="25.3" fill="#ffffff" stroke="#000000"/><text x="1154.8" y="844.7">xcpred</text>
<rect x="1129.4" y="1107.2" width="50.2" height="25.3" fill="#ffffff" stroke="#ff0000"/><text x="1154.5" y="1123.2">xtrnlf</text>
<rect x="461.2" y="296.7" width="63.7" height="25.3" fill="#ffffff" stroke="#000000"/><text x="493" y="312.7">derqp4</text>
<rect x="579.4" y="144.7" width="51.6" height="25.3" fill="#ffffff" stroke="#ff0000"/><text x="605.2" y="160.7">erel4</text>
<rect x="583.7" y="1006" width="43.3" height="25.3" fill="#ffffff" stroke="#ff0000"/><text x="605.4" y="1022.1">peri</text>
<rect x="581.5" y="702" width="47.7" height="25.3" fill="#ffffff" stroke="#000000"/><text x="605.4" y="718.1">tperi</text>
<rect x="795.5" y="651.3" width="56.7" height="25.3" fill="#ffffff" stroke="#000000"/><text x="823.9" y="667.4">ycopy</text>
<rect x="795.5" y="600.7" width="56.7" height="25.3" fill="#ffffff" stroke="#000000"/><text x="823.9" y="616.7">ysave</text>
<rect x="792.1" y="550" width="63.4" height="25.3" fill="#ffffff" stroke="#000000"/><text x="823.8" y="566.1">ksphys</text>
<rect x="792.1" y="499.3" width="63.4" height="25.3" fill="#ffffff" stroke="#000000"/><text x="823.8" y="515.4">physks</text>
<rect x="464.6" y="1158" width="57.1" height="25.3" fill="#ffffff" stroke="#000000"/><text x="493.2" y="1174.1">status</text>
<rect x="576.7" y="1208.7" width="57.1" height="25.3" fill="#ffffff" stroke="#000000"/><text x="605.2" y="1224.7">ichain</text>
<rect x="220.2" y="1487.3" width="68.6" height="25.3" fill="#ffffff" stroke="#ff0000"/><text x="254.5" y="1503.4">cmbody</text>
<rect x="578.9" y="1867.3" width="53" height="25.3" fill="#ffffff" stroke="#000000"/><text x="605.4" y="1883.4">steps</text>
<rect x="219.5" y="955.3" width="70.3" height="25.3" fill="#ffffff" stroke="#ff0000"/><text x="254.7" y="971.4">qpmod3</text>
<rect x="347.4" y="803.3" width="56.9" height="25.3" fill="#ffffff" stroke="#ff0000"/><text x="375.9" y="819.4">stabl3</text>
<rect x="464.1" y="904.7" width="58.3" height="25.3" fill="#ffffff" stroke="#000000"/><text x="493.2" y="920.7">trans3</text>
<rect x="226.7" y="1994" width="55.7" height="25.3" fill="#ffffff" stroke="#000000"/><text x="254.5" y="2010.1">start3</text>
<rect x="579.6" y="1107.3" width="51.5" height="25.3" fill="#ffffff" stroke="#000000"/><text x="605.4" y="1123.4">erel3</text>
<rect x="225.9" y="1031.3" width="57" height="25.3" fill="#ffffff" stroke="#000000"/><text x="254.4" y="1047.4">difsy3</text>
<rect x="346" y="1259.3" width="60" height="25.3" fill="#ffffff" stroke="#000000"/><text x="376" y="1275.4">dtchck</text>
<rect x="464.7" y="1968.5" width="57" height="25.3" fill="#ffffff" stroke="#ff0000"/><text x="493.2" y="1984.6">fpoly1</text>
<rect x="578.9" y="2019.3" width="53" height="25.3" fill="#ffffff" stroke="#000000"/><text x="605.4" y="2035.4">nblist</text>
<rect x="349.5" y="1360.7" width="52.8" height="25.3" fill="#ffffff" stroke="#ff0000"/><text x="375.9" y="1376.7">binev</text>
<rect x="462.1" y="2120.4" width="62.2" height="25.3" fill="#ffffff" stroke="#000000"/><text x="493.2" y="2136.5">xvpred</text>
<rect x="346.7" y="1158" width="58.6" height="25.3" fill="#ffffff" stroke="#000000"/><text x="376" y="1174.1">degen</text>
<rect x="346.8" y="1816.7" width="58.3" height="25.3" fill="#ffffff" stroke="#000000"/><text x="376" y="1832.7">nbrest</text>
<rect x="464.7" y="1867.2" width="57" height="25.3" fill="#ffffff" stroke="#ff0000"/><text x="493.2" y="1883.2">fpoly2</text>
<rect x="688.3" y="1867.3" width="52.8" height="25.3" fill="#ffffff" stroke="#000000"/><text x="714.7" y="1883.4">stepk</text>
<rect x="348.8" y="1715.3" width="54.2" height="25.3" fill="#ffffff" stroke="#ff0000"/><text x="375.9" y="1731.4">ksreg</text>
<rect x="346" y="1766" width="59.8" height="25.3" fill="#ffffff" stroke="#000000"/><text x="375.9" y="1782.1">nbrem</text>
<rect x="348.1" y="1614" width="55.6" height="25.3" fill="#ffffff" stroke="#000000"/><text x="375.9" y="1630.1">nbpot</text>
<rect x="347.5" y="2272.7" width="56.8" height="25.3" fill="#ffffff" stroke="#000000"/><text x="375.9" y="2288.7">fclose</text>
<rect x="344.1" y="2069.7" width="63.7" height="25.3" fill="#ffffff" stroke="#ff0000"/><text x="376" y="2085.8">subsys</text>
<rect x="339.5" y="2120.7" width="72.9" height="25.3" fill="#ffffff" stroke="#000000"/><text x="375.9" y="2136.8">mydump</text>
<rect x="461.6" y="1056.7" width="63.3" height="25.3" fill="#ffffff" stroke="#000000"/><text x="493.2" y="1072.7">derqp3</text>
</g>
</svg>
</body></html>
